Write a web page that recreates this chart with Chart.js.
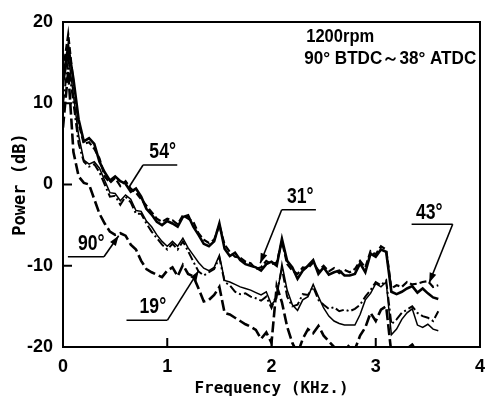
<!DOCTYPE html>
<html><head><meta charset="utf-8">
<script src="https://cdn.jsdelivr.net/npm/chart.js@4"></script>
<style>html,body{margin:0;padding:0;background:#fff}#wrap{width:494px;height:406px}</style>
</head><body><div id="wrap"><canvas id="c" width="494" height="406"></canvas></div>
<script>
// ---- data ----
const freq = [0,0.05,0.1,0.15,0.2,0.25,0.3,0.35,0.4,0.45,
  0.5,0.55,0.6,0.65,0.7,0.75,0.8,0.85,0.9,0.95,
  1.0,1.05,1.1,1.15,1.2,1.25,1.3,1.35,1.4,1.45,
  1.5,1.55,1.6,1.65,1.7,1.75,1.8,1.85,1.9,1.95,
  2.0,2.05,2.1,2.15,2.2,2.25,2.3,2.35,2.4,2.45,
  2.5,2.55,2.6,2.65,2.7,2.75,2.8,2.85,2.9,2.95,
  3.0,3.05,3.1,3.15,3.2,3.25,3.3,3.35,3.4,3.45,
  3.5,3.55,3.6];
const power31 = [13,17,13,8,5.3,5.7,5.0,2.8,1.5,0.5,
  1.0,0.4,0.1,-0.9,-0.5,-1.5,-3.0,-3.7,-4.6,-5.0,
  -4.5,-4.8,-5.2,-4.0,-3.8,-5.2,-6.2,-7.3,-7.6,-7.0,
  -4.8,-7.9,-8.8,-8.4,-9.3,-9.8,-10.0,-10.2,-10.6,-9.8,
  -9.5,-10.0,-6.7,-9.4,-10.2,-11.6,-10.6,-10.0,-9.3,-11.0,
  -10.2,-11.1,-10.8,-10.6,-11.2,-11.2,-11.0,-9.7,-10.8,-8.5,
  -8.9,-8.0,-8.3,-13.2,-13.5,-13.2,-12.8,-12.5,-13.3,-12.8,
  -13.4,-13.9,-14.1];
const power43 = [14,18.5,12.5,7.5,5.0,5.2,4.4,3.2,1.0,0.2,
  0.8,-0.2,0.4,-0.5,-1.0,-1.8,-2.6,-3.4,-4.2,-4.6,
  -4.2,-4.4,-4.9,-3.8,-4.2,-4.6,-6.0,-6.8,-7.2,-6.8,
  -5.0,-7.4,-8.3,-8.9,-9.0,-9.5,-9.7,-10.4,-10.2,-9.4,
  -9.8,-9.6,-7.0,-9.8,-10.6,-11.0,-10.2,-10.3,-9.6,-10.6,
  -10.0,-10.7,-10.3,-10.9,-10.5,-10.8,-10.4,-9.4,-10.2,-8.2,
  -8.6,-7.6,-8.0,-12.8,-12.4,-12.6,-12.0,-12.3,-12.2,-12.0,
  -11.9,-12.6,-12.4];
const power54 = [12,16,11,6,3.0,2.5,2.8,2.0,0.5,-1.0,
  -1.1,-2.0,-1.3,-1.8,-3.2,-3.3,-4.5,-5.2,-6.2,-7.0,
  -7.6,-7.0,-7.6,-6.6,-7.8,-8.7,-9.6,-10.3,-10.6,-10.2,
  -8.7,-11.8,-12.0,-12.3,-12.6,-12.8,-13.0,-13.3,-13.6,-13.2,
  -14.8,-14.0,-9.8,-13.0,-14.8,-15.5,-14.2,-13.8,-12.3,-13.8,
  -15.2,-16.2,-16.8,-17.1,-17.3,-17.3,-17.3,-16.0,-14.2,-13.4,
  -12.2,-12.6,-12.0,-18.5,-17.8,-16.6,-15.8,-15.3,-17.3,-17.6,
  -17.2,-17.8,-18.0];
const power19 = [10,15,10,5,2.8,2.2,2.5,1.5,0,-1.5,
  -1.4,-2.5,-1.5,-2.2,-3.6,-3.6,-4.8,-5.8,-6.6,-7.4,
  -8.0,-7.3,-8.0,-7.0,-8.2,-9.5,-10.7,-11.2,-10.8,-10.4,
  -9.0,-12.0,-12.4,-13.2,-13.5,-13.4,-13.8,-14.0,-14.3,-13.8,
  -15.2,-13.5,-10.3,-13.8,-15.0,-14.8,-13.5,-13.6,-12.6,-14.2,
  -14.8,-15.3,-15.1,-15.6,-15.4,-15.6,-15.3,-14.8,-13.8,-13.0,
  -12.0,-12.4,-11.8,-17.2,-16.6,-15.8,-15.4,-15.0,-15.8,-16.2,
  -16.4,-16.8,-15.6];
const power90 = [7,14,4,1,0.2,0,-1.8,-3.6,-4.8,-5.8,
  -6.2,-6.0,-6.3,-7.4,-8.0,-9.4,-10.4,-10.8,-11.1,-11.4,
  -10.6,-10.2,-11.3,-9.9,-11.0,-11.3,-12.8,-14.4,-14.2,-13.6,
  -12.6,-15.8,-16.0,-16.4,-16.8,-17.2,-17.5,-17.9,-19.0,-18.2,
  -19.5,-12.5,-14.5,-17.5,-19.5,-20.8,-19.0,-17.8,-18.3,-17.4,
  -18.6,-19.3,-20.0,-20.6,-20.5,-19.7,-20.3,-18.6,-17.6,-15.8,
  -16.8,-15.4,-15.0,-20.8,-21.0,-20.6,-20.2,-19.7,-20.5,-20.8,
  -21.0,-21.0,-21.0];
const seriesNames = ['31°','43°','54°','19°','90°'];
const xTicks = [0,1,2,3,4];
const yTicks = [-20,-10,0,10,20];
const xTitle = 'Frequency (KHz.)';
const yTitle = 'Power (dB)';
const noteLines = ['1200rpm','90° BTDC～38° ATDC'];

// ---- styles / annotation placement (data units) ----
const styles = [
  {w:2.6, dash:[]},
  {w:2.2, dash:[7,3]},
  {w:1.5, dash:[]},
  {w:2.0, dash:[9,3,2,3]},
  {w:2.6, dash:[11,4]}
];
const callouts = [
  {name:'54°', tx:0.956, ty:4.0, l0:0.768, l1:1.096, ly:2.4, side:'l', px:0.628, py:-0.43, head:false},
  {name:'90°', tx:0.272, ty:-7.3, l0:0.047, l1:0.393, ly:-8.9, side:'r', px:0.534, py:-6.3, head:true},
  {name:'19°', tx:0.862, ty:-15.1, l0:0.609, l1:1.002, ly:-16.7, side:'r', px:1.302, py:-10.6, head:true},
  {name:'31°', tx:2.276, ty:-1.5, l0:2.098, l1:2.426, ly:-3.1, side:'l', px:1.892, py:-9.7, head:true},
  {name:'43°', tx:3.513, ty:-3.5, l0:3.344, l1:3.738, ly:-4.9, side:'r', px:3.513, py:-12.1, head:true}
];
const notePos = [{x:2.333, y:17.6, w:68},{x:2.314, y:14.8, w:172}];

const FONT_S = '"Liberation Sans",Arimo,"DejaVu Sans",sans-serif';
const allSeries = [power31, power43, power54, power19, power90];

const datasets = allSeries.map((arr, i) => ({
  label: seriesNames[i],
  data: freq.map((f, k) => ({x: f, y: arr[k]})),
  borderColor: '#000',
  borderWidth: styles[i].w,
  borderDash: styles[i].dash,
  pointRadius: 0,
  tension: 0,
  fill: false,
  borderJoinStyle: 'miter'
}));

function squeezeText(ctx, text, x, y, sx) {
  ctx.save();
  ctx.translate(x, y);
  ctx.scale(sx, 1);
  ctx.fillText(text, 0, 0);
  ctx.restore();
}

const deco = {
  id: 'deco',
  afterDatasetsDraw(chart) {
    const ctx = chart.ctx, ca = chart.chartArea;
    const xs = chart.scales.x, ys = chart.scales.y;
    const X = v => xs.getPixelForValue(v), Y = v => ys.getPixelForValue(v);
    ctx.save();
    ctx.strokeStyle = '#000'; ctx.fillStyle = '#000';
    ctx.setLineDash([]);
    // frame
    ctx.lineWidth = 2;
    ctx.strokeRect(ca.left, ca.top, ca.right - ca.left, ca.bottom - ca.top);
    // inward ticks
    yTicks.slice(1, -1).forEach(v => {
      ctx.beginPath(); ctx.moveTo(ca.left, Y(v)); ctx.lineTo(ca.left + 9, Y(v)); ctx.stroke();
    });
    xTicks.slice(1, -1).forEach(v => {
      ctx.beginPath(); ctx.moveTo(X(v), ca.bottom); ctx.lineTo(X(v), ca.bottom - 9); ctx.stroke();
    });
    // callouts
    callouts.forEach(c => {
      ctx.font = 'bold 22px ' + FONT_S;
      ctx.textAlign = 'center'; ctx.textBaseline = 'middle';
      squeezeText(ctx, c.name, X(c.tx), Y(c.ty), 0.8);
      ctx.lineWidth = 1.6;
      ctx.beginPath(); ctx.moveTo(X(c.l0), Y(c.ly)); ctx.lineTo(X(c.l1), Y(c.ly)); ctx.stroke();
      const sx = X(c.side === 'l' ? c.l0 : c.l1), sy = Y(c.ly);
      const ex = X(c.px), ey = Y(c.py);
      ctx.beginPath(); ctx.moveTo(sx, sy); ctx.lineTo(ex, ey); ctx.stroke();
      if (c.head) {
        const a = Math.atan2(ey - sy, ex - sx), L = 10, H = 3.5;
        ctx.beginPath();
        ctx.moveTo(ex, ey);
        ctx.lineTo(ex - L*Math.cos(a) + H*Math.sin(a), ey - L*Math.sin(a) - H*Math.cos(a));
        ctx.lineTo(ex - L*Math.cos(a) - H*Math.sin(a), ey - L*Math.sin(a) + H*Math.cos(a));
        ctx.closePath(); ctx.fill();
      }
    });
    // note text, fitted to the reference width
    ctx.font = 'bold 18px ' + FONT_S;
    ctx.textAlign = 'left'; ctx.textBaseline = 'alphabetic';
    noteLines.forEach((t, i) => {
      const w = ctx.measureText(t).width;
      squeezeText(ctx, t, X(notePos[i].x), Y(notePos[i].y), notePos[i].w / w);
    });
    ctx.restore();
  }
};

new Chart(document.getElementById('c'), {
  type: 'line',
  data: { datasets },
  options: {
    responsive: false,
    animation: false,
    devicePixelRatio: 1,
    layout: { padding: { top: 22, right: 4, left: 0, bottom: 0 } },
    plugins: { legend: { display: false }, tooltip: { enabled: false } },
    scales: {
      x: {
        type: 'linear', min: 0, max: 4,
        afterBuildTicks: s => { s.ticks = xTicks.map(v => ({value: v})); },
        ticks: { color: '#000', padding: 9, maxRotation: 0, font: { family: FONT_S, size: 18, weight: 'bold' } },
        grid: { display: false, drawTicks: false },
        border: { display: false },
        title: { display: true, text: xTitle, color: '#000', padding: { top: 0, bottom: 8 },
                 font: { family: '"DejaVu Sans Mono",monospace', size: 16, weight: 'bold' } },
        afterFit: s => { s.height = 59; }
      },
      y: {
        type: 'linear', min: -20, max: 20,
        afterBuildTicks: s => { s.ticks = yTicks.map(v => ({value: v})); },
        ticks: { color: '#000', padding: 10, font: { family: FONT_S, size: 18, weight: 'bold' } },
        grid: { display: false, drawTicks: false },
        border: { display: false },
        title: { display: true, text: yTitle, color: '#000', padding: { top: 10, bottom: 0 },
                 font: { family: '"DejaVu Sans Mono",monospace', size: 17, weight: 'bold' } },
        afterFit: s => { s.width = 63; }
      }
    }
  },
  plugins: [deco]
});
</script>
</body></html>
